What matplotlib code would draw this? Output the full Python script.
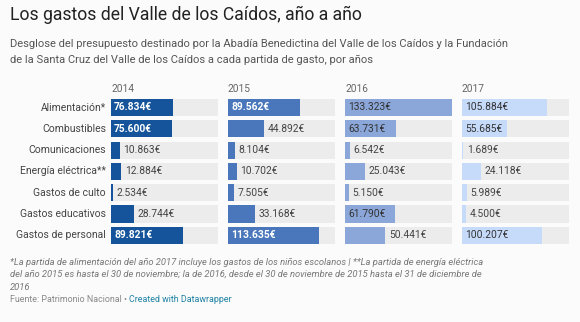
import matplotlib.pyplot as plt

plt.rcParams['font.family'] = ['Roboto', 'DejaVu Sans']

# Gastos por partida y año (euros)
categorias = ["Alimentación*", "Combustibles", "Comunicaciones", "Energía eléctrica**",
              "Gastos de culto", "Gastos educativos", "Gastos de personal"]
anios = ["2014", "2015", "2016", "2017"]
g2014 = [76834, 75600, 10863, 12884, 2534, 28744, 89821]
g2015 = [89562, 44892, 8104, 10702, 7505, 33168, 113635]
g2016 = [133323, 63731, 6542, 25043, 5150, 61790, 50441]
g2017 = [105884, 55685, 1689, 24118, 5989, 4500, 100207]

series = [g2014, g2015, g2016, g2017]
colores = ["#15549a", "#4a77bb", "#8ba6d8", "#c6dafa"]
texto_dentro = ["white", "white", "#333333", "#333333"]
peso_dentro = ["bold", "bold", "normal", "normal"]

W, H = 580, 322
fig = plt.figure(figsize=(W / 100, H / 100), dpi=100)
fig.patch.set_facecolor("#fbfbfb")

# eje de fondo para textos en coordenadas de píxel
bg = fig.add_axes([0, 0, 1, 1])
bg.set_xlim(0, W)
bg.set_ylim(H, 0)
bg.axis("off")

bg.text(10, 15, "Los gastos del Valle de los Caídos, año a año",
        fontsize=12.7, color="#222222", va="center", ha="left")
bg.text(10, 44, "Desglose del presupuesto destinado por la Abadía Benedictina del Valle de los Caídos y la Fundación",
        fontsize=8.0, color="#555555", va="center", ha="left")
bg.text(10, 60, "de la Santa Cruz del Valle de los Caídos a cada partida de gasto, por años",
        fontsize=8.0, color="#555555", va="center", ha="left")

notas = ["*La partida de alimentación del año 2017 incluye los gastos de los niños escolanos | **La partida de energía eléctrica",
         "del año 2015 es hasta el 30 de noviembre; la de 2016, desde el 30 de noviembre de 2015 hasta el 31 de diciembre de",
         "2016"]
for i, linea in enumerate(notas):
    bg.text(10, 262 + i * 12.5, linea, fontsize=6.72, style="italic",
            color="#777777", va="center", ha="left")

fuente = bg.text(10, 299, "Fuente: Patrimonio Nacional • ", fontsize=6.4,
                 color="#888888", va="center", ha="left")
bg.annotate("Created with Datawrapper", xy=(1, 0.5), xycoords=fuente,
            fontsize=6.4, color="#1d81a2", va="center", ha="left")

maximo = max(max(s) for s in series)
n = len(categorias)
paso = 21.3
top = 107.5 - paso / 2
alto = paso * n

for k, (anio, valores) in enumerate(zip(anios, series)):
    x0 = 111 + 117 * k
    ax = fig.add_axes([x0 / W, 1 - (top + alto) / H, 107 / W, alto / H])
    ax.set_facecolor("none")
    ax.set_xlim(0, maximo)
    ax.set_ylim(n - 0.5, -0.5)
    ax.axis("off")
    filas = list(range(n))
    ax.barh(filas, [maximo] * n, height=0.8, color="#ececec", zorder=1)
    ax.barh(filas, valores, height=0.8, color=colores[k], zorder=2)
    for y, v in zip(filas, valores):
        etiqueta = f"{v:,}".replace(",", ".") + "€"
        if v > 53000:
            ax.annotate(etiqueta, xy=(0, y), xytext=(2.2, 0), textcoords="offset points",
                        fontsize=7.4, color=texto_dentro[k], fontweight=peso_dentro[k],
                        va="center", ha="left", zorder=3)
        else:
            ax.annotate(etiqueta, xy=(v, y), xytext=(2.6, 0), textcoords="offset points",
                        fontsize=7.4, color="#444444", va="center", ha="left", zorder=3)
    bg.text(x0, 89, anio, fontsize=7.3, color="#666666", va="center", ha="left")

for y, cat in enumerate(categorias):
    bg.text(106, top + paso * (y + 0.5), cat, fontsize=7.5, color="#444444",
            va="center", ha="right")

fig.savefig("out.png", dpi=100, facecolor=fig.get_facecolor())
